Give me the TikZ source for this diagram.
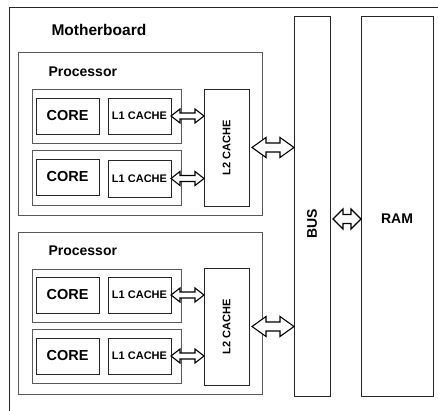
\documentclass[tikz,border=0pt]{standalone}
\usepackage{fontspec}
\setmainfont{Liberation Sans}
\usetikzlibrary{calc}
\newcommand{\fatarrow}[5]{%
  \draw[fatarr] let \p1=(#1), \p2=(#2) in
    (\x1,\y1) -- (\x1+#3,\y1+#4) -- (\x1+#3,\y1+#5) -- (\x2-#3,\y1+#5)
    -- (\x2-#3,\y1+#4) -- (\x2,\y1) -- (\x2-#3,\y1-#4) -- (\x2-#3,\y1-#5)
    -- (\x1+#3,\y1-#5) -- (\x1+#3,\y1-#4) -- cycle;}
\tikzset{
  box/.style={draw=black!85, line width=0.9pt, inner sep=0pt, outer sep=0pt, anchor=north west},
  graybox/.style={box, draw=black!65},
  fatarr/.style={draw=black, line width=1.1pt, fill=white, line join=miter},
  title/.style={font=\bfseries\fontsize{15.5}{18}\selectfont, anchor=west},
  proc/.style={font=\bfseries\fontsize{14}{16}\selectfont, anchor=west},
  coretxt/.style={font=\bfseries\fontsize{14.5}{16}\selectfont},
  cachetxt/.style={font=\bfseries\fontsize{11}{12}\selectfont},
  bigtxt/.style={font=\bfseries\fontsize{14}{16}\selectfont},
}
\begin{document}
\begin{tikzpicture}[x=1pt, y=-1pt]
\useasboundingbox (0,0) rectangle (438,411);
% motherboard border (cropped)
\draw[black!85, line width=0.9pt] (9,411) -- (9,7) -- (438,7);
\node[title] (mb) at (48,30) {Motherboard};

% ---------- Processor 1 ----------
\node[graybox, minimum width=244pt, minimum height=163pt] (p1) at (18,52) {};
\node[proc] (p1t) at (45,72) {Processor};
\node[graybox, minimum width=149pt, minimum height=54pt] (p1a) at (32,89) {};
\node[box, minimum width=63pt, minimum height=36pt] (c1a) at (36,98) {};
\node[coretxt] at (c1a.center) {CORE};
\node[box, minimum width=63pt, minimum height=36pt] (l1a) at (108,98) {};
\node[cachetxt] at (l1a.center) {L1 CACHE};
\node[graybox, minimum width=149pt, minimum height=55pt] (p1b) at (32,150) {};
\node[box, minimum width=63pt, minimum height=36pt] (c1b) at (36,159) {};
\node[coretxt] at (c1b.center) {CORE};
\node[box, minimum width=63pt, minimum height=37pt] (l1b) at (108,160) {};
\node[cachetxt] at (l1b.center) {L1 CACHE};
\node[box, minimum width=45pt, minimum height=117pt] (l2a) at (204,89) {};
\node[cachetxt, rotate=90] at (l2a.center) {L2 CACHE};

% ---------- Processor 2 ----------
\node[graybox, minimum width=244pt, minimum height=162pt] (p2) at (18,232) {};
\node[proc] (p2t) at (45,251) {Processor};
\node[graybox, minimum width=149pt, minimum height=53pt] (p2a) at (32,269) {};
\node[box, minimum width=63pt, minimum height=36pt] (c2a) at (36,277) {};
\node[coretxt] at (c2a.center) {CORE};
\node[box, minimum width=63pt, minimum height=36pt] (l2x) at (108,277) {};
\node[cachetxt] at (l2x.center) {L1 CACHE};
\node[graybox, minimum width=149pt, minimum height=54pt] (p2b) at (32,329) {};
\node[box, minimum width=63pt, minimum height=36pt] (c2b) at (36,338) {};
\node[coretxt] at (c2b.center) {CORE};
\node[box, minimum width=63pt, minimum height=36pt] (l2y) at (108,338) {};
\node[cachetxt] at (l2y.center) {L1 CACHE};
\node[box, minimum width=45pt, minimum height=117pt] (l2b) at (204,268) {};
\node[cachetxt, rotate=90] at (l2b.center) {L2 CACHE};

% ---------- BUS and RAM ----------
\node[box, minimum width=36pt, minimum height=380pt] (bus) at (294,16) {};
\node[bigtxt, rotate=90] (bust) at (312,224) {BUS};
\node[box, minimum width=72pt, minimum height=380pt] (ram) at (361,16) {};
\node[bigtxt] (ramt) at (397,219) {RAM};

% ---------- arrows ----------
\fatarrow{l1a.east}{l1a.east -| l2a.west}{9pt}{7pt}{3pt}
\fatarrow{l1b.east}{l1b.east -| l2a.west}{9pt}{7pt}{3pt}
\fatarrow{l2x.east}{l2x.east -| l2b.west}{9pt}{7pt}{3pt}
\fatarrow{l2y.east}{l2y.east -| l2b.west}{9pt}{7pt}{3pt}
\fatarrow{$(l2a.east)+(3pt,0)$}{l2a.east -| bus.west}{14pt}{10pt}{4.5pt}
\fatarrow{$(l2b.east)+(3pt,0)$}{l2b.east -| bus.west}{14pt}{10pt}{4.5pt}
\fatarrow{$(bus.east |- ramt)+(3pt,0)$}{ram.west |- ramt}{10pt}{10pt}{4.5pt}
\end{tikzpicture}
\end{document}
